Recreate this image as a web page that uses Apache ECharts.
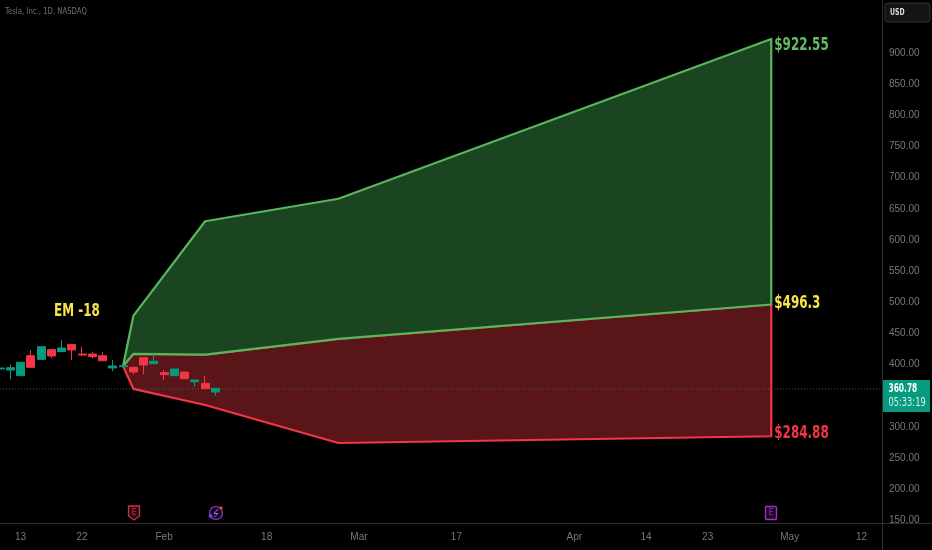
<!DOCTYPE html>
<html><head><meta charset="utf-8">
<style>html,body{margin:0;padding:0;background:#000;}#c{width:932px;height:550px;}</style>
<script src="https://cdn.jsdelivr.net/npm/echarts@6/dist/echarts.min.js"></script>
</head><body><div id="c"></div>
<script>
const title = 'Tesla, Inc., 1D, NASDAQ';
const priceTicks = [150,200,250,300,350,400,450,500,550,600,650,700,750,800,850,900];
const timeTickPos = [2,8,16,26,35,44.5,56,63,69,77,84];
const timeTickLabels = ['13','22','Feb','18','Mar','17','Apr','14','23','May','12'];
// [bar, open, close, low, high]
const candles = [
[0,392.8,394.3,391.2,401.9],[1,391.2,394.9,376.2,400.2],[2,382.1,403.5,382.1,403.5],
[3,414.1,395.4,395.4,423.3],[4,408.3,428.6,408.3,428.6],[5,423.8,413.6,409.9,423.8],
[6,420.6,426.5,420.6,439.3],[7,432.3,423.3,407.2,432.3],[8,416.8,415.2,414.1,428.6],
[9,416.8,412.6,409.9,420.6],[10,414.1,406.1,406.1,419.5],[11,394.4,397.6,389.5,407.2],
[12,396.5,398.1,396,399],[13,395.4,387.9,384.2,395.4],[14,410.9,399.2,384.2,410.9],
[15,401.3,405.1,401.3,419.5],[16,386.9,383.7,375.1,391.2],[17,382.1,392.8,382.1,392.8],
[18,387.9,377.2,377.2,387.9],[19,372.4,375.1,364.4,375.1],[20,369.7,361.2,361.2,381.5],
[21,355.8,361.7,349.9,361.7]];
const upperEdge = [[12,397.6],[13,478],[20,630],[33,666],[75.2,922.55]];
const midEdge   = [[12,397.6],[13,417],[20,416],[33,441],[75.2,496.3]];
const lowerEdge = [[12,397.6],[13,361],[20,335],[33,274],[75.2,284.88]];
const lastPrice = 360.78;
const labelTexts = ['$922.55','$496.3','$284.88'];
const labelAnchors = [912.8,498.7,290.1];
const labelColors = ['#62bd64','#f7e34b','#f23645'];

const condensed = '"DejaVu Sans Condensed","DejaVu Sans"';
const axisFont = '"Liberation Sans"';
const chart = echarts.init(document.getElementById('c'), null, {renderer:'canvas'});

function band(a, b, fill, stroke, z){
  const pts = a.concat(b.slice().reverse());
  return {type:'custom', coordinateSystem:'cartesian2d', z, clip:false, silent:true,
    data: pts, encode:{x:0,y:1},
    renderItem(p, api){
      if (p.dataIndex !== 0) return null;
      return {type:'polygon', shape:{points: pts.map(q => api.coord(q))},
        style:{fill, stroke, lineWidth:2.2, lineJoin:'round'}};
    }};
}
function squeezed(text, x, y, font, fill, sx, z){
  return {type:'text', x, y, scaleX:sx, z:z||10, style:{text, fill, font, verticalAlign:'middle'}};
}
chart.setOption({
  backgroundColor:'#000', animation:false,
  grid:{left:0, top:0, width:882, height:523.5},
  xAxis:{type:'value', min:0, max:86, splitLine:{show:false}, axisLine:{show:false}, axisTick:{show:false},
    axisLabel:{customValues:timeTickPos, margin:9, color:'#787878', fontSize:10, fontFamily:axisFont, hideOverlap:false,
      formatter:v=>timeTickLabels[timeTickPos.indexOf(v)]||''}},
  yAxis:{type:'value', position:'right', min:144.8, max:985.07, splitLine:{show:false}, axisLine:{show:false}, axisTick:{show:false},
    axisLabel:{customValues:priceTicks, margin:7, color:'#787878', fontSize:10, fontFamily:axisFont, showMinLabel:true,
      formatter:v=>v.toFixed(2)}},
  series:[
    band(midEdge, lowerEdge, '#5a1518', '#f23645', 2),
    band(upperEdge, midEdge, '#1b4520', '#58b65c', 3),
    {type:'line', z:4, silent:true, symbol:'none', data:[[0,lastPrice],[86,lastPrice]],
      lineStyle:{color:'#089981', width:1, type:[1,2], opacity:.7}},
    {type:'candlestick', z:5, barWidth:8.5, silent:true, encode:{x:0,y:[1,2,3,4]}, data:candles,
      itemStyle:{color:'#089981',color0:'#f23645',borderColor:'#089981',borderColor0:'#f23645',borderWidth:1}},
    {type:'custom', coordinateSystem:'cartesian2d', z:6, silent:true, clip:false,
      data:labelAnchors.map(v=>[75.2,v]), encode:{x:0,y:1},
      renderItem(p, api){
        const c = api.coord([api.value(0), api.value(1)]);
        return {type:'text', x:c[0]+3, y:c[1], scaleX:.76,
          style:{text:labelTexts[p.dataIndex], fill:labelColors[p.dataIndex],
            font:'bold 17.5px '+condensed, verticalAlign:'middle'}};
      }}
  ],
  graphic:[
    {type:'line', shape:{x1:0,y1:523.5,x2:932,y2:523.5}, style:{stroke:'#2e2e2e',lineWidth:1}, z:1},
    {type:'line', shape:{x1:882.5,y1:0,x2:882.5,y2:550}, style:{stroke:'#2e2e2e',lineWidth:1}, z:1},
    squeezed(title, 5, 12, '9.5px '+condensed, '#6e6e6e', .81),
    squeezed('EM -18', 54, 312, 'bold 17px '+condensed, '#f7e34b', .78),
    {type:'rect', shape:{x:885,y:3,width:45,height:19,r:3}, style:{fill:'#141414',stroke:'#333',lineWidth:1}},
    squeezed('USD', 890, 13, 'bold 9.5px '+condensed, '#ddd', .72),
    {type:'rect', shape:{x:883,y:380,width:47,height:32,r:1}, style:{fill:'#089981'}, z:20},
    squeezed(lastPrice.toFixed(2), 888.5, 389, 'bold 11.5px '+condensed, '#fff', .72, 21),
    squeezed('05:33:19', 888.5, 403, '11.5px '+condensed, '#d8f0ea', .8, 21),
    {type:'group', x:134, y:506, children:[
      {type:'polygon', shape:{points:[[-5.5,0],[5.5,0],[5.5,10],[0,14],[-5.5,10]]}, style:{fill:'#2a0a0e', stroke:'#c2343f', lineWidth:1.3}},
      {type:'text', x:0, y:6.5, style:{text:'E', fill:'#c2343f', font:'8px '+condensed, align:'center', verticalAlign:'middle'}}]},
    {type:'group', x:771, y:513, children:[
      {type:'rect', shape:{x:-5.5,y:-6.5,width:11,height:13,r:1}, style:{fill:'#1c0a24',stroke:'#a52fc0',lineWidth:1.3}},
      {type:'text', x:0, y:0, style:{text:'E', fill:'#a52fc0', font:'8px '+condensed, align:'center', verticalAlign:'middle'}}]},
    {type:'group', x:216, y:513, children:[
      {type:'circle', shape:{cx:0,cy:0,r:6.5}, style:{fill:'#120a20',stroke:'#8f3fb8',lineWidth:1.2}},
      {type:'polyline', shape:{points:[[2,-4],[-2,0.5],[2,0.5],[-2,4.5]]}, style:{fill:null,stroke:'#b06ad8',lineWidth:1}},
      {type:'circle', shape:{cx:5,cy:-5,r:1.8}, style:{fill:'#f23645'}},
      {type:'circle', shape:{cx:-5.5,cy:3,r:2}, style:{fill:'#5a48e8'}}]}
  ]
});
</script></body></html>
